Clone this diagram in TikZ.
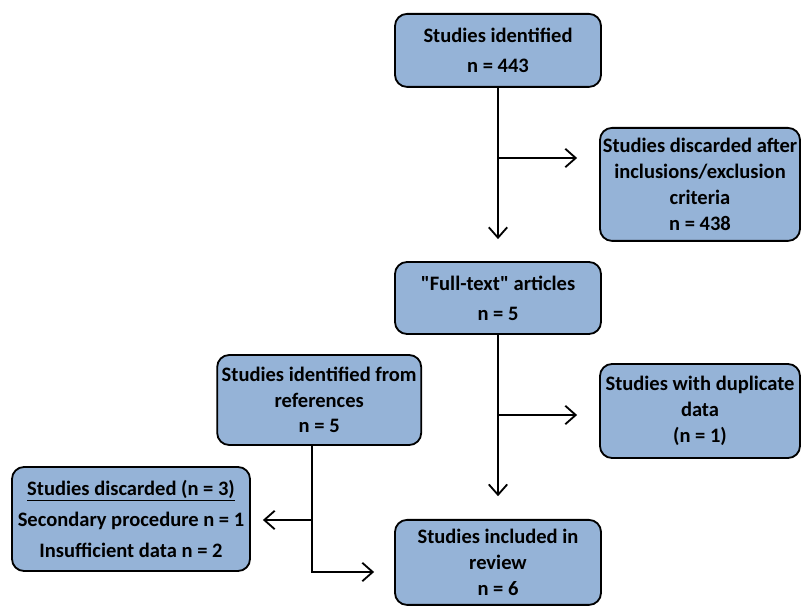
\documentclass[tikz,border=0pt]{standalone}
\usepackage{fontspec}
\setmainfont{Carlito}
\usepackage{tikz}
\usetikzlibrary{arrows.meta}
\definecolor{boxblue}{RGB}{149,179,215}
\tikzset{>={Straight Barb[length=2.6mm,width=4.6mm]}}
\tikzset{%
    flowbox/.style={%
        draw=black, line width=1.3pt, fill=boxblue, rounded corners=0.3cm,
        align=center, inner sep=1pt,
        font=\fontsize{14.6}{18.3}\selectfont\bfseries
    },
    flowline/.style={line width=1.3pt}
}

\begin{document}
\begin{tikzpicture}
\useasboundingbox (0,0) rectangle (20.05,-15.175);
% boxes
\node[flowbox, minimum width=5.15cm, minimum height=1.825cm] (ident) at (12.45,-1.26)
    {Studies identified\\[3pt]n = 443};
\node[flowbox, minimum width=5.0cm, minimum height=2.825cm] (discard) at (17.5,-4.61)
    {Studies discarded after\\inclusions/exclusion\\criteria\\n = 438};
\node[flowbox, minimum width=5.15cm, minimum height=1.8cm] (fulltext) at (12.45,-7.45)
    {\textquotedbl Full-text\textquotedbl{} articles\\[3pt]n = 5};
\node[flowbox, minimum width=5.1cm, minimum height=2.25cm] (refs) at (7.98,-10.0)
    {Studies identified from\\references\\n = 5};
\node[flowbox, minimum width=5.0cm, minimum height=2.35cm] (dupl) at (17.5,-10.275)
    {Studies with duplicate\\data\\(n = 1)};
\node[flowbox, minimum width=5.95cm, minimum height=2.6cm] (excl) at (3.275,-12.975)
    {\underline{Studies discarded (n = 3)}\\[4pt]Secondary procedure n = 1\\[4pt]Insufficient data n = 2};
\node[flowbox, minimum width=5.15cm, minimum height=2.125cm] (incl) at (12.45,-14.06)
    {Studies included in\\review\\n = 6};
% split points
\coordinate (split1) at (12.45,-3.95);
\coordinate (split2) at (12.45,-10.375);
\coordinate (split3) at (7.8,-13.0);
\coordinate (corner) at (7.8,-14.3);
% connectors
\draw[flowline,->,shorten >=0.55cm] (ident.south) -- (fulltext.north);
\draw[flowline,->,shorten >=0.55cm] (split1) -- (split1 -| discard.west);
\draw[flowline,->,shorten >=0.57cm] (fulltext.south) -- (incl.north);
\draw[flowline,->,shorten >=0.55cm] (split2) -- (split2 -| dupl.west);
\draw[flowline,->,shorten >=0.5cm] (corner |- refs.south) -- (corner) -- (corner -| incl.west);
\draw[flowline,->,shorten >=0.3cm] (split3) -- (split3 -| excl.east);
\end{tikzpicture}
\end{document}
